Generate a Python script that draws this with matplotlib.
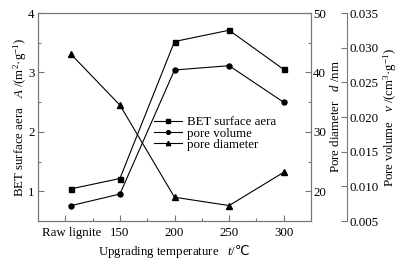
import matplotlib
matplotlib.use("Agg")
import matplotlib.pyplot as plt
from matplotlib.transforms import ScaledTranslation

plt.rcParams['font.family'] = ['Liberation Serif', 'DejaVu Serif']
plt.rcParams['mathtext.fontset'] = 'custom'
plt.rcParams['mathtext.rm'] = 'Liberation Serif'
plt.rcParams['mathtext.it'] = 'Liberation Serif:italic'
plt.rcParams['mathtext.sf'] = 'DejaVu Sans'

x_pos = [105, 150, 200, 250, 300]
tick_pos = [100, 150, 200, 250, 300]
tick_labels = ['Raw lignite', '150', '200', '250', '300']
bet_area = [1.04, 1.215, 3.52, 3.71, 3.05]
pore_volume = [0.00721, 0.00889, 0.02678, 0.02740, 0.02212]
pore_diameter = [43.1, 34.5, 19.0, 17.6, 23.2]
vol_ticks = [0.005, 0.010, 0.015, 0.020, 0.025, 0.030, 0.035]
vol_labels = ['0.005', '0.010', '0.015', '0.020', '0.025', '0.030', '0.035']

FS = 9.3
spc = '#777777'

fig = plt.figure(figsize=(4.01, 2.59), dpi=100)
ax = fig.add_axes([0.0948, 0.1467, 0.6808, 0.8031])
ax2 = ax.twinx()
ax3 = ax.twinx()
ax3.spines['right'].set_position(('axes', 1.132))

l1, = ax.plot(x_pos, bet_area, color='black', lw=0.8, marker='s', ms=3.6, label='BET surface aera')
l2, = ax3.plot(x_pos, pore_volume, color='black', lw=0.8, marker='o', ms=3.6, label='pore volume')
l3, = ax2.plot(x_pos, pore_diameter, color='black', lw=0.8, marker='^', ms=4.2, label='pore diameter')

ax.set_xlim(75, 325)
ax.set_ylim(0.5, 4)
ax2.set_ylim(15, 50)
ax3.set_ylim(0.005, 0.035)

ax.set_xticks(tick_pos)
ax.set_xticklabels(tick_labels)
ax.set_xticks([125, 175, 225, 275], minor=True)
ax.set_yticks([1, 2, 3, 4])
ax.set_yticks([1.5, 2.5, 3.5], minor=True)
ax2.set_yticks([20, 30, 40, 50])
ax2.set_yticks([25, 35, 45], minor=True)
ax3.set_yticks(vol_ticks)
ax3.set_yticklabels(vol_labels)

for a in (ax, ax2, ax3):
    for s in a.spines.values():
        s.set_color(spc)
        s.set_linewidth(0.8)
    a.tick_params(which='major', direction='in', length=4, width=0.8, color=spc, labelsize=FS, pad=2.5)
    a.tick_params(which='minor', direction='in', length=2.5, width=0.8, color=spc)
ax.tick_params(axis='x', pad=4.5)
ax2.tick_params(axis='y', pad=1.5)
ax3.tick_params(axis='y', pad=1.5)
ax3.spines['left'].set_visible(False)
ax3.spines['top'].set_visible(False)
ax3.spines['bottom'].set_visible(False)

# shift "Raw lignite" label to sit under its data point
lbl0 = ax.get_xticklabels()[0]
lbl0.set_transform(lbl0.get_transform() + ScaledTranslation(6 / 100, 0, fig.dpi_scale_trans))

ax.set_xlabel(r'Upgrading temperature   $\it{t}$/$\mathsf{℃}$', fontsize=FS, labelpad=3)
ax.set_ylabel(r'BET surface aera   $\it{A}$ /(m$^2$·g$^{-1}$)', fontsize=FS, labelpad=-0.5)
ax2.set_ylabel(r'Pore diameter   $\it{d}$ /nm', fontsize=FS, labelpad=2)
ax3.set_ylabel(r'Pore volume   $\it{v}$ /(cm$^3$·g$^{-1}$)', fontsize=FS, labelpad=2)

leg = ax.legend(handles=[l1, l2, l3], loc='upper left', bbox_to_anchor=(0.40, 0.535),
                frameon=False, fontsize=FS, handlelength=2.2, handletextpad=0.4,
                labelspacing=-0.05, borderpad=0, markerscale=0.75)

fig.savefig('out.png', dpi=100)
